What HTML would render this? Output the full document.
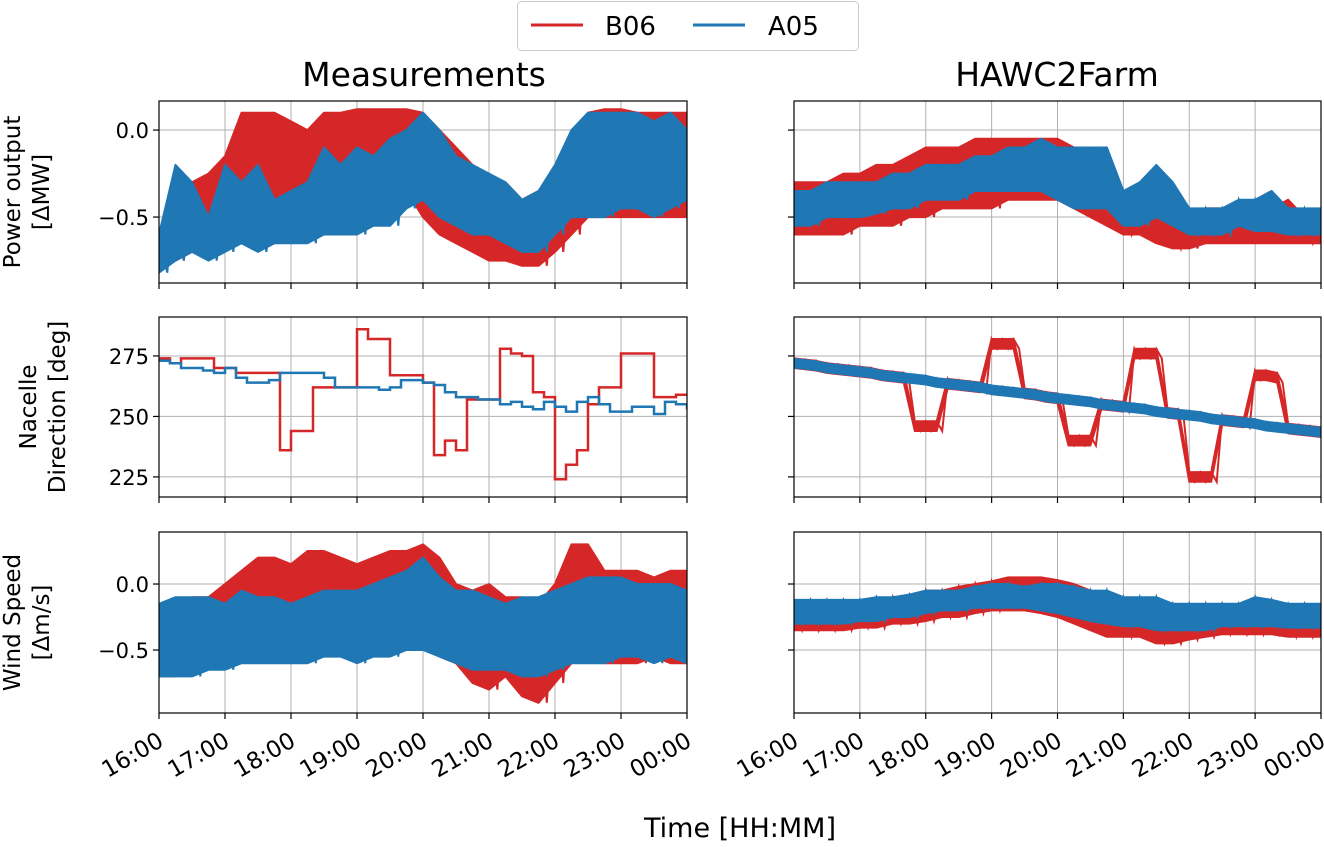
<!DOCTYPE html>
<html><head><meta charset="utf-8"><style>
body{margin:0;background:#fff;}
svg text{font-family:"DejaVu Sans","Liberation Sans",sans-serif;fill:#000;}
</style></head><body>
<svg id="chart" width="1324" height="842" viewBox="0 0 1324 842" xmlns="http://www.w3.org/2000/svg">
<g>
<rect x="517.5" y="1.5" width="341" height="49" rx="4" fill="#fff" stroke="#cccccc"/>
<line x1="531" y1="25" x2="583" y2="25" stroke="#d62728" stroke-width="3"/>
<text x="605" y="35" font-size="26">B06</text>
<line x1="693" y1="25" x2="745" y2="25" stroke="#1f77b4" stroke-width="3"/>
<text x="768" y="35" font-size="26">A05</text>
</g>
<text x="424" y="86" font-size="33" text-anchor="middle">Measurements</text>
<text x="1057" y="86" font-size="33" text-anchor="middle">HAWC2Farm</text>
<text x="740" y="837" font-size="27" text-anchor="middle">Time [HH:MM]</text>
<g id="plots"></g>
</svg>
<script>
const hourLabels=["16:00","17:00","18:00","19:00","20:00","21:00","22:00","23:00","00:00"];
// Power output (15-min samples, 33 each)
const pwMeasB06Hi=[-0.6,-0.5,-0.3,-0.25,-0.15,0.1,0.1,0.1,0.05,0.0,0.1,0.1,0.12,0.12,0.12,0.12,0.1,0.0,-0.1,-0.2,-0.3,-0.3,-0.4,-0.35,-0.3,-0.1,0.1,0.12,0.12,0.1,0.1,0.1,0.1];
const pwMeasB06Lo=[-0.8,-0.75,-0.7,-0.6,-0.6,-0.5,-0.45,-0.4,-0.5,-0.5,-0.35,-0.3,-0.35,-0.3,-0.3,-0.35,-0.5,-0.6,-0.65,-0.7,-0.75,-0.75,-0.78,-0.78,-0.7,-0.6,-0.5,-0.5,-0.5,-0.5,-0.5,-0.5,-0.5];
const pwMeasA05Hi=[-0.6,-0.2,-0.3,-0.5,-0.2,-0.3,-0.2,-0.4,-0.35,-0.3,-0.1,-0.2,-0.1,-0.15,-0.05,0.0,0.1,0.0,-0.15,-0.2,-0.25,-0.3,-0.4,-0.35,-0.2,0.0,0.1,0.1,0.1,0.1,0.05,0.1,0.0];
const pwMeasA05Lo=[-0.82,-0.75,-0.7,-0.75,-0.7,-0.65,-0.7,-0.65,-0.65,-0.65,-0.6,-0.6,-0.6,-0.55,-0.55,-0.45,-0.4,-0.5,-0.55,-0.6,-0.6,-0.65,-0.7,-0.7,-0.6,-0.5,-0.5,-0.5,-0.45,-0.45,-0.5,-0.45,-0.4];
const pwSimB06Hi=[-0.3,-0.3,-0.3,-0.25,-0.25,-0.2,-0.2,-0.15,-0.1,-0.1,-0.1,-0.05,-0.05,-0.05,-0.05,-0.05,-0.05,-0.1,-0.15,-0.2,-0.4,-0.45,-0.5,-0.5,-0.5,-0.45,-0.45,-0.45,-0.45,-0.45,-0.4,-0.5,-0.5];
const pwSimB06Lo=[-0.6,-0.6,-0.6,-0.6,-0.55,-0.55,-0.55,-0.5,-0.5,-0.45,-0.45,-0.45,-0.45,-0.4,-0.4,-0.4,-0.4,-0.45,-0.5,-0.55,-0.6,-0.6,-0.65,-0.68,-0.68,-0.65,-0.65,-0.65,-0.65,-0.65,-0.65,-0.65,-0.65];
const pwSimA05Hi=[-0.35,-0.35,-0.3,-0.3,-0.3,-0.3,-0.25,-0.25,-0.2,-0.2,-0.2,-0.15,-0.15,-0.1,-0.1,-0.05,-0.1,-0.1,-0.1,-0.1,-0.35,-0.3,-0.2,-0.3,-0.45,-0.45,-0.45,-0.4,-0.4,-0.35,-0.45,-0.45,-0.45];
const pwSimA05Lo=[-0.55,-0.55,-0.5,-0.5,-0.5,-0.48,-0.45,-0.45,-0.4,-0.4,-0.4,-0.35,-0.35,-0.35,-0.35,-0.35,-0.4,-0.45,-0.45,-0.45,-0.55,-0.55,-0.5,-0.55,-0.6,-0.6,-0.6,-0.55,-0.58,-0.58,-0.6,-0.6,-0.6];
// Nacelle direction (10-min samples, 49 each)
const dirMeasB06=[274,272,274,274,274,270,270,268,268,268,268,236,244,244,262,262,262,262,286,282,282,267,267,267,264,234,240,236,257,257,257,278,276,275,260,258,224,230,236,255,262,262,276,276,276,258,258,259,259];
const dirMeasA05=[273,272,270,270,269,268,270,266,264,264,265,268,268,268,268,266,262,262,262,262,261,262,265,265,264,263,260,258,258,257,257,255,256,254,253,256,254,252,256,258,255,252,252,254,254,251,256,255,253];
const dirSimA05=[272,271.5,271,270,269.5,269,268.5,268,267,266.5,266,265.5,265,264,263.5,263,262.5,262,261,260.5,260,259.5,259,258,257.5,257,256.5,256,255,254.5,254,253.5,253,252,251.5,251,250.5,250,249,248.5,248,247.5,247,246,245.5,245,244.5,244,243.5];
const dirSimB06=[272,271.5,271,270,269.5,269,268.5,268,267,266.5,266,246,246,246,263.5,263,262.5,262,280,280,280,259.5,259,258,257.5,240,240,240,255,254.5,254,276,276,276,251.5,251,225,225,225,248.5,248,247.5,267,267,266,245,244.5,244,243.5];
// Wind speed (15-min samples)
const wsMeasB06Hi=[-0.2,-0.15,-0.1,-0.1,0.0,0.1,0.2,0.2,0.15,0.25,0.25,0.2,0.15,0.2,0.25,0.25,0.3,0.2,0.0,-0.05,0.0,-0.1,-0.1,-0.15,0.0,0.3,0.3,0.1,0.1,0.1,0.05,0.1,0.1];
const wsMeasB06Lo=[-0.7,-0.7,-0.65,-0.6,-0.55,-0.45,-0.4,-0.4,-0.45,-0.5,-0.45,-0.5,-0.45,-0.45,-0.45,-0.4,-0.45,-0.55,-0.6,-0.75,-0.8,-0.7,-0.85,-0.9,-0.75,-0.6,-0.55,-0.6,-0.6,-0.6,-0.55,-0.6,-0.6];
const wsMeasA05Hi=[-0.15,-0.1,-0.1,-0.1,-0.15,-0.05,-0.1,-0.1,-0.15,-0.1,-0.05,-0.05,-0.05,0.0,0.05,0.1,0.2,0.05,-0.05,-0.05,-0.1,-0.15,-0.1,-0.1,-0.05,0.0,0.05,0.05,0.05,0.0,0.0,0.0,-0.05];
const wsMeasA05Lo=[-0.7,-0.7,-0.7,-0.65,-0.65,-0.6,-0.6,-0.6,-0.6,-0.6,-0.55,-0.55,-0.6,-0.55,-0.55,-0.5,-0.5,-0.55,-0.6,-0.65,-0.65,-0.65,-0.7,-0.7,-0.65,-0.6,-0.6,-0.6,-0.55,-0.55,-0.6,-0.55,-0.6];
const wsSimB06Hi=[-0.15,-0.15,-0.15,-0.15,-0.15,-0.12,-0.1,-0.1,-0.05,-0.05,-0.02,0.0,0.02,0.05,0.05,0.05,0.03,0.0,-0.05,-0.1,-0.15,-0.2,-0.25,-0.25,-0.25,-0.2,-0.2,-0.2,-0.2,-0.15,-0.2,-0.2,-0.2];
const wsSimB06Lo=[-0.35,-0.35,-0.35,-0.35,-0.33,-0.33,-0.3,-0.3,-0.28,-0.25,-0.25,-0.22,-0.2,-0.2,-0.2,-0.22,-0.25,-0.3,-0.35,-0.4,-0.4,-0.4,-0.45,-0.45,-0.42,-0.4,-0.38,-0.38,-0.38,-0.38,-0.4,-0.4,-0.4];
const wsSimA05Hi=[-0.12,-0.12,-0.12,-0.12,-0.12,-0.1,-0.1,-0.08,-0.05,-0.05,-0.05,-0.02,0.0,0.0,-0.02,0.0,0.0,-0.02,-0.05,-0.05,-0.1,-0.1,-0.1,-0.15,-0.15,-0.15,-0.15,-0.15,-0.1,-0.12,-0.15,-0.15,-0.15];
const wsSimA05Lo=[-0.3,-0.3,-0.3,-0.3,-0.28,-0.28,-0.25,-0.25,-0.22,-0.2,-0.2,-0.18,-0.18,-0.18,-0.18,-0.2,-0.22,-0.25,-0.28,-0.3,-0.32,-0.32,-0.35,-0.35,-0.35,-0.35,-0.32,-0.32,-0.32,-0.32,-0.33,-0.33,-0.33];

const RED="#d62728",BLUE="#1f77b4",NS="http://www.w3.org/2000/svg";
const root=document.getElementById('plots');
function mk(tag,attrs,parent){const e=document.createElementNS(NS,tag);for(const k in attrs)e.setAttribute(k,attrs[k]);(parent||root).appendChild(e);return e;}
const rows=[
 {top:101,bot:283,vTop:0.167,vBot:-0.879,ticks:[0,-0.5],tl:["0.0","\u22120.5"],label:["Power output","[\u0394MW]"],lx:28,name:"power"},
 {top:317,bot:497,vTop:291.1,vBot:216.7,ticks:[275,250,225],tl:["275","250","225"],label:["Nacelle","Direction [deg]"],lx:44,name:"direction"},
 {top:532,bot:713,vTop:0.394,vBot:-0.977,ticks:[0,-0.5],tl:["0.0","\u22120.5"],label:["Wind Speed","[\u0394m/s]"],lx:28,name:"wind"}];
const cols=[{x0:159,x1:687,name:"meas"},{x0:794,x1:1321,name:"sim"}];
function xs(c,h){return c.x0+(c.x1-c.x0)*h/8;}
function ys(r,v){return r.top+(r.vTop-v)/(r.vTop-r.vBot)*(r.bot-r.top);}
function band(g,r,c,hi,lo,color,name){
  const n=hi.length;let p=[];
  for(let i=0;i<n;i++)p.push(xs(c,i*8/(n-1)).toFixed(1)+","+ys(r,hi[i]).toFixed(1));
  for(let i=n-1;i>=0;i--)p.push(xs(c,i*8/(n-1)).toFixed(1)+","+ys(r,lo[i]).toFixed(1));
  const e=mk('polygon',{points:p.join(' '),fill:color,stroke:color,'stroke-width':2,'stroke-linejoin':'round'},g);
  
  
  let z=[];
  for(let i=0;i<n;i++){const h=i*8/(n-1);z.push(xs(c,h).toFixed(1)+","+ys(r,hi[i]).toFixed(1));if(i<n-1)z.push(xs(c,h+4/(n-1)).toFixed(1)+","+ys(r,lo[i]).toFixed(1));}
  const zz=mk('polyline',{points:z.join(' '),fill:'none',stroke:color,'stroke-width':2},g);
  
  
}
function step(g,r,c,vals,color,name){
  const n=vals.length;let p=[];
  for(let i=0;i<n;i++){const x=xs(c,i*8/(n-1));if(i>0)p.push(x.toFixed(1)+","+ys(r,vals[i-1]).toFixed(1));p.push(x.toFixed(1)+","+ys(r,vals[i]).toFixed(1));}
  const e=mk('polyline',{points:p.join(' '),fill:'none',stroke:color,'stroke-width':2.5},g);
  
  
}
function thick(g,r,c,vals,w,color,name){
  const lo=vals.map(v=>v-w),hi=vals.map(v=>v+w);band(g,r,c,hi,lo,color,name);
}
rows.forEach((r,ri)=>{cols.forEach((c,ci)=>{
  const g=mk('g',{});
  
  
  const clipId='clip'+ri+ci;
  const cp=mk('clipPath',{id:clipId},g);mk('rect',{x:c.x0,y:r.top,width:c.x1-c.x0,height:r.bot-r.top},cp);
  for(let h=0;h<=8;h++){const x=xs(c,h);
    const gl=mk('line',{x1:x,y1:r.top,x2:x,y2:r.bot,stroke:'#b0b0b0','stroke-width':1},g);
    
    
    mk('line',{x1:x,y1:r.bot,x2:x,y2:r.bot+6,stroke:'#000','stroke-width':1.2},g);
    if(ri==2){const t=mk('text',{x:x+6,y:r.bot+32,'font-size':23,'text-anchor':'end',transform:`rotate(-30 ${x+6} ${r.bot+32})`},g);t.textContent=hourLabels[h];
      
      }
  }
  r.ticks.forEach((v,i)=>{const y=ys(r,v);
    const gl=mk('line',{x1:c.x0,y1:y,x2:c.x1,y2:y,stroke:'#b0b0b0','stroke-width':1},g);
    
    
    mk('line',{x1:c.x0-6,y1:y,x2:c.x0,y2:y,stroke:'#000','stroke-width':1.2},g);
    if(ci==0){const t=mk('text',{x:c.x0-10,y:y+8,'font-size':21,'text-anchor':'end'},g);t.textContent=r.tl[i];
      
      }
  });
  const dg=mk('g',{'clip-path':`url(#${clipId})`},g);
  
  
  if(ri==0){
    if(ci==0){band(dg,r,c,pwMeasB06Hi,pwMeasB06Lo,RED,'b06-power-meas');band(dg,r,c,pwMeasA05Hi,pwMeasA05Lo,BLUE,'a05-power-meas');}
    else{band(dg,r,c,pwSimB06Hi,pwSimB06Lo,RED,'b06-power-sim');band(dg,r,c,pwSimA05Hi,pwSimA05Lo,BLUE,'a05-power-sim');}
  }else if(ri==1){
    if(ci==0){step(dg,r,c,dirMeasB06,RED,'b06-direction-meas');step(dg,r,c,dirMeasA05,BLUE,'a05-direction-meas');}
    else{thick(dg,r,c,dirSimB06,2,RED,'b06-direction-sim');thick(dg,r,c,dirSimA05,1.8,BLUE,'a05-direction-sim');}
  }else{
    if(ci==0){band(dg,r,c,wsMeasB06Hi,wsMeasB06Lo,RED,'b06-wind-meas');band(dg,r,c,wsMeasA05Hi,wsMeasA05Lo,BLUE,'a05-wind-meas');}
    else{band(dg,r,c,wsSimB06Hi,wsSimB06Lo,RED,'b06-wind-sim');band(dg,r,c,wsSimA05Hi,wsSimA05Lo,BLUE,'a05-wind-sim');}
  }
  const fr=mk('rect',{x:c.x0,y:r.top,width:c.x1-c.x0,height:r.bot-r.top,fill:'none',stroke:'#000','stroke-width':1.2},g);
  
  
 });
 const cy=(r.top+r.bot)/2;
 const lab=mk('text',{'font-size':23,'text-anchor':'middle',transform:`translate(${r.lx} ${cy}) rotate(-90)`});
 
 
 const t1=mk('tspan',{x:0,y:-8},lab);t1.textContent=r.label[0];
 const t2=mk('tspan',{x:0,y:21},lab);t2.textContent=r.label[1];
});
</script>
</body></html>
